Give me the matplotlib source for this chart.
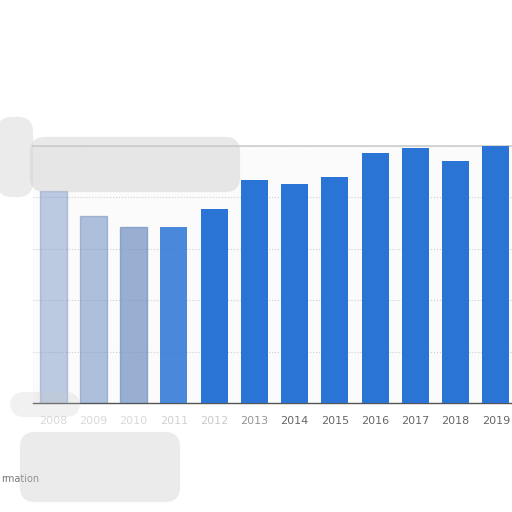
import matplotlib.pyplot as plt
from matplotlib.patches import FancyBboxPatch

years = ['2008', '2009', '2010', '2011', '2012', '2013', '2014', '2015',
         '2016', '2017', '2018', '2019']
values = [82.3, 72.6, 68.3, 68.3, 75.3, 86.6, 85.4, 87.8, 97.1, 99.4, 94.0, 100.0]

# first bars of the screenshot are washed out
bar_alpha = [0.35, 0.45, 0.6, 0.85, 1, 1, 1, 1, 1, 1, 1, 1]
label_alpha = [0.25, 0.25, 0.25, 0.3, 0.35, 0.7, 1, 1, 1, 1, 1, 1]

fig = plt.figure(figsize=(5.12, 5.12), dpi=100)
ax = fig.add_axes([33 / 512, 109 / 512, 483 / 512, 257 / 512])
ax.set_facecolor('#fbfbfb')

bars = ax.bar(range(len(years)), values, width=0.67, color='#2a74d6', zorder=3)
for b, a in zip(bars, bar_alpha):
    b.set_alpha(a)
    if a < 0.7:
        b.set_color('#6e8fc0')
        b.set_alpha(a + 0.1)

ax.set_xlim(-0.5, len(years) - 0.5)
ax.set_ylim(0, 100)
ax.set_yticks([20, 40, 60, 80, 100])
ax.set_yticklabels([])
ax.tick_params(axis='y', length=0)
ax.grid(axis='y', color='#cfcfcf', linestyle=':', linewidth=0.8, zorder=0)

ax.set_xticks(range(len(years)))
ax.set_xticklabels(years, fontsize=8, color='#666666')
ax.tick_params(axis='x', length=0, pad=9)
for lbl, a in zip(ax.get_xticklabels(), label_alpha):
    lbl.set_alpha(a)

for side in ['left', 'right']:
    ax.spines[side].set_visible(False)
ax.spines['top'].set_color('#cccccc')
ax.spines['top'].set_linewidth(1.2)
ax.spines['bottom'].set_color('#555555')
ax.spines['bottom'].set_linewidth(1.0)

# blurred overlay blobs from the screenshot
blobs = [
    (35, 325, 200, 45, 0.4),
    (2, 320, 26, 70, 0.35),
    (25, 15, 150, 60, 0.35),
    (15, 100, 60, 15, 0.25),
]
for x, y, w, h, a in blobs:
    fig.patches.append(FancyBboxPatch((x / 512, y / 512), w / 512, h / 512,
                                      boxstyle='round,pad=0.01,rounding_size=0.03',
                                      transform=fig.transFigure, facecolor='#c8c8c8',
                                      edgecolor='none', alpha=a, zorder=5))

fig.text(1 / 512, 33 / 512, 'rmation', ha='left', va='center',
         fontsize=7, color='#777777')

plt.savefig('out.png')
